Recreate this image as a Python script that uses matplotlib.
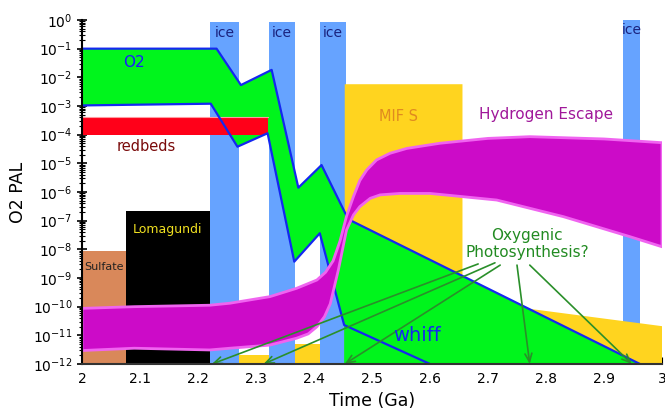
import matplotlib
matplotlib.use("Agg")
import matplotlib.pyplot as plt
from matplotlib.ticker import LogLocator, NullFormatter
import numpy as np

# O2 band (log10 PAL)
o2_up_x = [2.0, 2.232, 2.274, 2.327, 2.373, 2.413, 2.459, 2.962]
o2_up_y = [-1.0, -1.0, -2.27, -1.74, -5.85, -5.06, -6.95, -12.0]
o2_lo_x = [2.0, 2.222, 2.268, 2.320, 2.366, 2.410, 2.452, 2.6]
o2_lo_y = [-2.98, -2.92, -4.42, -3.95, -8.43, -7.44, -10.64, -12.0]

# hydrogen escape band
h2_up_x = [2.0, 2.09, 2.22, 2.255, 2.324, 2.37, 2.405, 2.42, 2.433, 2.445, 2.456,
           2.468, 2.479, 2.491, 2.508, 2.531, 2.56, 2.617, 2.7, 2.772, 2.9, 3.0]
h2_up_y = [-10.06, -10.0, -9.95, -9.88, -9.65, -9.36, -9.07, -8.8, -8.4, -7.7, -6.85,
           -6.16, -5.6, -5.23, -4.88, -4.65, -4.48, -4.30, -4.13, -4.07, -4.15, -4.28]
h2_lo_x = [2.0, 2.09, 2.22, 2.255, 2.324, 2.37, 2.39, 2.405, 2.418, 2.428, 2.442,
           2.456, 2.468, 2.479, 2.497, 2.514, 2.548, 2.6, 2.715, 2.83, 2.945, 3.0]
h2_lo_y = [-11.53, -11.45, -11.51, -11.45, -11.34, -11.10, -10.95, -10.70, -10.35, -9.9, -8.72,
           -7.33, -6.80, -6.51, -6.22, -6.10, -6.05, -6.05, -6.28, -6.86, -7.56, -7.91]

# glaciations
ice_x0 = [2.221, 2.322, 2.411, 2.932]
ice_x1 = [2.271, 2.368, 2.455, 2.962]
ice_top = [-0.07, -0.07, -0.07, 0.0]

# MIF S
mif_x = [2.453, 2.453, 2.656, 2.656, 3.0, 3.0]
mif_y = [-12.0, -2.24, -2.24, -9.77, -10.68, -12.0]
mif_small_x0 = [2.271, 2.368]
mif_small_x1 = [2.322, 2.411]
mif_small_top = [-11.69, -11.31]

sulfate = (2.0, 2.075, -8.06)
lomagundi = (2.076, 2.221, -6.67)
redbeds = (2.0, 2.321, -4.0, -3.37)

arrow_tail_x = [2.683, 2.712, 2.721, 2.750, 2.772]
arrow_tail_y = [-8.51, -8.47, -8.55, -8.55, -8.55]
arrow_tip_x = [2.224, 2.313, 2.453, 2.772, 2.948]

p = lambda a: 10.0 ** np.array(a)

fig = plt.figure(figsize=(6.65, 4.16), dpi=100)
ax = fig.add_axes([82/665, 52/416, 580/665, 344/416])
ax.set_yscale('log')
ax.set_xlim(2, 3)
ax.set_ylim(1e-12, 1)

icec = '#66a3ff'
yel = '#ffd41f'
for a, b, t in zip(ice_x0, ice_x1, ice_top):
    ax.fill([a, a, b, b], p([-12, t, t, -12]), color=icec, lw=0, zorder=1)
ax.fill(mif_x, p(mif_y), color=yel, lw=0, zorder=2)
for a, b, t in zip(mif_small_x0, mif_small_x1, mif_small_top):
    ax.fill([a, a, b, b], p([-12, t, t, -12]), color=yel, lw=0, zorder=2)

s0, s1, st = sulfate
ax.fill([s0, s0, s1, s1], p([-12, st, st, -12]), color='#d9885a', lw=0, zorder=2)
l0, l1, lt = lomagundi
ax.fill([l0, l0, l1, l1], p([-12, lt, lt, -12]), color='black', lw=0, zorder=2)

# green O2 region
gx = o2_up_x + [o2_lo_x[6]] + o2_lo_x[6::-1]
gy = o2_up_y + [-12.0] + o2_lo_y[6::-1]
ax.fill(gx, p(gy), color='#00f51c', lw=0, zorder=3)

r0, r1, rb, rt = redbeds
ax.fill([r0, r0, r1, r1], p([rb, rt, rt, rb]), color='#ff0019', lw=0, zorder=4)
ax.plot([r0, r1], p([rt, rt]), color='#ff9aa0', lw=0.8, zorder=4)

ax.plot(o2_up_x, p(o2_up_y), color='#1428f0', lw=1.6, zorder=5)
ax.plot(o2_lo_x, p(o2_lo_y), color='#1428f0', lw=1.6, zorder=5)

hx = h2_up_x + h2_lo_x[::-1]
hy = h2_up_y + h2_lo_y[::-1]
ax.fill(hx, p(hy), facecolor='#cc0bc8', edgecolor='#f064f0', lw=2,
        joinstyle='round', zorder=6)

for tx, ty, hx_ in zip(arrow_tail_x, arrow_tail_y, arrow_tip_x):
    ax.annotate('', xy=(hx_, 1e-12), xytext=(tx, 10 ** ty),
                arrowprops=dict(arrowstyle='->,head_length=0.6,head_width=0.25',
                                color='#2a8f2a', lw=1.2, shrinkA=0, shrinkB=0),
                zorder=7)

# labels
for a, b in zip(ice_x0[:3], ice_x1[:3]):
    ax.text((a + b) / 2, 10 ** -0.45, 'ice', ha='center', va='center',
            color='#1a237e', fontsize=10, zorder=8)
ax.text(2.947, 10 ** -0.35, 'ice', ha='center', va='center', color='#1a237e',
        fontsize=10, zorder=8)
ax.text(2.089, 10 ** -1.48, 'O2', ha='center', va='center', color='#1a1aff',
        fontsize=11, zorder=8)
ax.text(2.11, 10 ** -4.4, 'redbeds', ha='center', va='center', color='#7a0a0a',
        fontsize=10.5, zorder=8)
ax.text(2.546, 10 ** -3.37, 'MIF S', ha='center', va='center', color='#e08a20',
        fontsize=10.5, zorder=8)
ax.text(2.80, 10 ** -3.31, 'Hydrogen Escape', ha='center', va='center',
        color='#a0189a', fontsize=11, zorder=8)
ax.text(2.767, 10 ** -7.8, 'Oxygenic\nPhotosynthesis?', ha='center', va='center',
        color='#228b22', fontsize=11, linespacing=1.15, zorder=8)
ax.text(2.577, 10 ** -10.99, 'whiff', ha='center', va='center', color='#1428f0',
        fontsize=14, zorder=8)
ax.text(2.148, 10 ** -7.32, 'Lomagundi', ha='center', va='center', color='#f0e020',
        fontsize=9, zorder=8)
ax.text(2.038, 10 ** -8.6, 'Sulfate', ha='center', va='center', color='#222222',
        fontsize=8, zorder=8)

ax.set_xlabel('Time (Ga)', fontsize=12.5)
ax.set_ylabel('O2 PAL', fontsize=12.5)

ax.yaxis.set_major_locator(LogLocator(base=10, numticks=20))
ax.yaxis.set_minor_locator(LogLocator(base=10, subs=np.arange(2, 10), numticks=20))
ax.yaxis.set_minor_formatter(NullFormatter())
ax.set_xticks([2, 2.1, 2.2, 2.3, 2.4, 2.5, 2.6, 2.7, 2.8, 2.9, 3])
ax.set_xticklabels(['2', '2.1', '2.2', '2.3', '2.4', '2.5', '2.6', '2.7', '2.8', '2.9', '3'])
ax.tick_params(axis='y', which='major', direction='inout', length=7, width=1.2, labelsize=10)
ax.tick_params(axis='y', which='minor', direction='inout', length=4, width=0.8)
ax.tick_params(axis='x', which='major', direction='in', length=5, labelsize=10, pad=6)

ax.spines['top'].set_visible(False)
ax.spines['right'].set_visible(False)
ax.spines['left'].set_linewidth(1.5)
ax.spines['bottom'].set_color('#333333')
ax.spines['bottom'].set_linewidth(1.5)
for s in ax.spines.values():
    s.set_zorder(10)

fig.savefig('out.png', dpi=100)
